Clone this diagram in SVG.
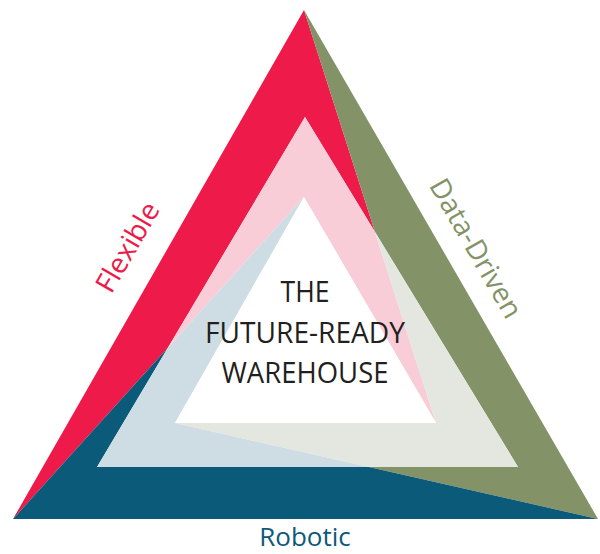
<svg xmlns="http://www.w3.org/2000/svg" width="600" height="554" viewBox="0 0 600 554">
<style>
.lbl{font-family:"Open Sans","Noto Sans","Liberation Sans",sans-serif;font-size:28px;}
.ctr{font-family:"Open Sans","Noto Sans","Liberation Sans",sans-serif;font-size:29px;fill:#231f20;text-anchor:middle;}
</style>
<rect width="600" height="554" fill="#ffffff"/>
<g id="flexible">
  <polygon points="304,10 13,519 168,347.5 305,117 374.9,231.8" fill="#ee1a4a"/>
  <polygon points="305,117 168,347.5 304,197 436,423 374.9,231.8" fill="#f9cdd7"/>
  <text class="lbl" fill="#ee1a4a" text-anchor="middle" transform="translate(136,252) rotate(-60)">Flexible</text>
</g>
<g id="data-driven">
  <polygon points="598,519 304,10 374.9,231.8 518,467 368.9,467" fill="#849367"/>
  <polygon points="374.9,231.8 518,467 368.9,467 175,423 436,423" fill="#e4e7e0"/>
  <text class="lbl" fill="#849367" text-anchor="middle" transform="translate(467.5,253) rotate(60)">Data-Driven</text>
</g>
<g id="robotic">
  <polygon points="13,519 598,519 368.9,467 97,467 168,347.5" fill="#0c5a79"/>
  <polygon points="168,347.5 97,467 368.9,467 175,423 304,197" fill="#cedde4"/>
  <text class="lbl" fill="#0c5a79" text-anchor="middle" x="305" y="546" style="font-size:26px">Robotic</text>
</g>
<g id="center">
  <polygon points="304,197 175,423 436,423" fill="#ffffff"/>
  <text class="ctr" x="305" y="302" textLength="49" lengthAdjust="spacingAndGlyphs">THE</text>
  <text class="ctr" x="305" y="343" textLength="200" lengthAdjust="spacingAndGlyphs">FUTURE-READY</text>
  <text class="ctr" x="305" y="383" textLength="167" lengthAdjust="spacingAndGlyphs">WAREHOUSE</text>
</g>
<g id="connectors"></g>
</svg>
